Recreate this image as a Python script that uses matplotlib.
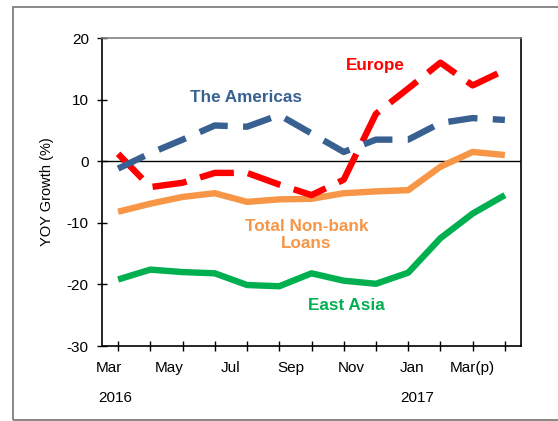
import matplotlib
matplotlib.use("Agg")
import matplotlib.pyplot as plt
from matplotlib.patches import Rectangle
from matplotlib.transforms import blended_transform_factory

plt.rcParams['font.family'] = ['Liberation Sans', 'DejaVu Sans']
plt.rcParams['axes.unicode_minus'] = False

months = ["Mar", "May", "Jul", "Sep", "Nov", "Jan", "Mar(p)"]
years = ["2016", "2017"]
americas = [-1.2, 1.3, 3.5, 5.8, 5.6, 7.5, 4.5, 1.5, 3.5, 3.5, 6.2, 7.0, 6.7]
europe = [1.2, -4.2, -3.5, -1.9, -1.9, -3.8, -5.5, -3.0, 7.7, 11.8, 16.0, 12.3, 14.8]
total = [-8.2, -6.9, -5.8, -5.2, -6.6, -6.2, -6.1, -5.2, -4.9, -4.7, -0.9, 1.5, 1.0]
east_asia = [-19.2, -17.6, -18.0, -18.2, -20.1, -20.3, -18.2, -19.4, -19.9, -18.1, -12.5, -8.5, -5.5]

x = list(range(len(total)))

fig = plt.figure(figsize=(5.58, 4.21), dpi=100)
ax = fig.add_axes([102/558, 75/421, (521-102)/558, (346-38)/421])

lw = 4.6
ax.axhline(0, color='black', lw=1.0, zorder=1)
ax.plot(x, total, color='#F79646', lw=lw, solid_capstyle='butt', zorder=2)
ax.plot(x, east_asia, color='#00B050', lw=lw, solid_capstyle='butt', zorder=2)
ax.plot(x, europe, color='#FF0000', lw=lw, dashes=(5.4, 2.2), dash_capstyle='butt', zorder=3)
ax.plot(x, americas, color='#386192', lw=lw, dashes=(4.6, 2.4), dash_capstyle='butt', zorder=4)

ax.set_xlim(-0.5, 12.5)
ax.set_ylim(-30, 20)
ax.set_yticks([-30, -20, -10, 0, 10, 20])
ax.set_xticks(x)
ax.set_xticklabels([])
ax.tick_params(axis='both', direction='inout', length=7, width=1, labelsize=11, pad=4)
ax.tick_params(axis='y', pad=6)
for s in ['left', 'bottom', 'right']:
    ax.spines[s].set_color('black')
    ax.spines[s].set_linewidth(1.2)
ax.spines['top'].set_color('#808080')
ax.spines['top'].set_linewidth(1.2)
ax.set_ylabel("YOY Growth (%)", fontsize=10.5, labelpad=9)

trans = blended_transform_factory(ax.transData, fig.transFigure)
for i, m in enumerate(months):
    ax.text(-0.28 + 1.88 * i, 1 - 368/421, m, transform=trans, ha='center', va='center', fontsize=11)
ax.text(-0.1, 1 - 398/421, years[0], transform=trans, ha='center', va='center', fontsize=11)
ax.text(9.28, 1 - 398/421, years[1], transform=trans, ha='center', va='center', fontsize=11)

fs = 12.3
ax.text(7.99, 15.5, "Europe", color='#FF0000', fontsize=fs, fontweight='bold', ha='center', va='center')
ax.text(3.97, 10.4, "The Americas", color='#386192', fontsize=fs, fontweight='bold', ha='center', va='center')
ax.text(5.84, -12.0, "Total Non-bank\nLoans", color='#F79646', fontsize=fs, fontweight='bold',
        ha='center', va='center', linespacing=1.2)
ax.text(7.08, -23.5, "East Asia", color='#00B050', fontsize=fs, fontweight='bold', ha='center', va='center')

fig.patches.append(Rectangle((13/558, 1/421), 1.0, 413/421, transform=fig.transFigure,
                             fill=False, edgecolor='#7f7f7f', lw=1.3))

fig.savefig("out.png", dpi=100)
